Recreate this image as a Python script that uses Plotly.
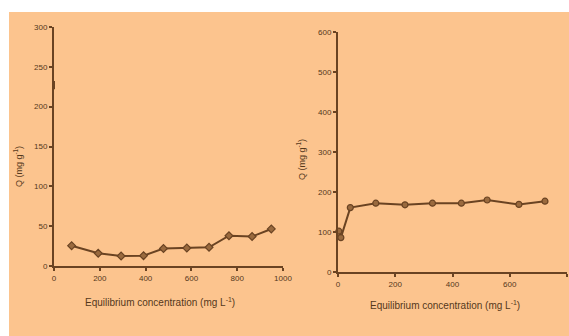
import plotly.graph_objects as go

# Left panel data
left_x = [77, 193, 293, 391, 478, 580, 677, 764, 865, 949]
left_y = [25.5, 16, 12.5, 13, 22, 22.5, 23.5, 38, 37, 46.5]
left_stray_x = [0]
left_stray_y = [227]

# Right panel data
right_x = [3, 10, 43, 132, 234, 330, 431, 521, 632, 723]
right_y = [102, 86, 161, 172, 168, 172, 172, 180, 169, 177]

left_xticks = [0, 200, 400, 600, 800, 1000]
left_yticks = [0, 50, 100, 150, 200, 250, 300]
right_xticks = [0, 200, 400, 600, 800]
right_yticks = [0, 100, 200, 300, 400, 500, 600]

BG = "#FCC48E"
INK = "#55381b"
LINE = "#6a4322"
FONT = "Liberation Sans, Arial, sans-serif"

W, H = 569, 336

fig = go.Figure()

fig.add_trace(go.Scatter(
    x=left_x, y=left_y, mode="lines+markers", xaxis="x", yaxis="y",
    line=dict(color=LINE, width=2),
    marker=dict(symbol="diamond", size=6, color="#9a6a3e", line=dict(color=LINE, width=1.2)),
    showlegend=False, cliponaxis=False))
fig.add_trace(go.Scatter(
    x=left_stray_x, y=left_stray_y, mode="markers", xaxis="x", yaxis="y",
    marker=dict(symbol="line-ns", size=6, line=dict(color=LINE, width=2)),
    showlegend=False, cliponaxis=False))
fig.add_trace(go.Scatter(
    x=right_x, y=right_y, mode="lines+markers", xaxis="x2", yaxis="y2",
    line=dict(color=LINE, width=2),
    marker=dict(symbol="circle", size=6, color="#9a6a3e", line=dict(color=LINE, width=1.2)),
    showlegend=False, cliponaxis=False))

def px_x(p):
    return p / W

def px_y(p):
    return 1 - p / H

axis_common = dict(
    showgrid=False, zeroline=False, showline=True, linecolor=LINE, linewidth=2,
    ticks="outside", ticklen=3, tickwidth=1.5, tickcolor=LINE, automargin=False,
    tickfont=dict(family=FONT, size=8, color=INK),
)

ann_common = dict(xref="paper", yref="paper", showarrow=False,
                  xanchor="center", yanchor="middle")

fig.update_layout(
    width=W, height=H,
    margin=dict(l=0, r=0, t=0, b=0, pad=0, autoexpand=False),
    paper_bgcolor=BG,
    plot_bgcolor="rgba(0,0,0,0)",
    font=dict(family=FONT, color=INK),
    xaxis=dict(domain=[px_x(54), px_x(283)], range=[0, 1000], tickvals=left_xticks,
               anchor="y", **axis_common),
    yaxis=dict(domain=[px_y(266), px_y(27)], range=[0, 300], tickvals=left_yticks,
               anchor="x", **axis_common),
    xaxis2=dict(domain=[px_x(338), px_x(567)], range=[0, 800], tickvals=right_xticks,
                anchor="y2", **axis_common),
    yaxis2=dict(domain=[px_y(272), px_y(32)], range=[0, 600], tickvals=right_yticks,
                anchor="x2", **axis_common),
    shapes=[
        dict(type="rect", xref="paper", yref="paper", x0=0, x1=1, y0=px_y(12), y1=1,
             fillcolor="white", line=dict(width=0), layer="below"),
        dict(type="rect", xref="paper", yref="paper", x0=0, x1=px_x(9), y0=0, y1=1,
             fillcolor="white", line=dict(width=0), layer="below"),
    ],
    annotations=[
        dict(text="Equilibrium concentration (mg L<sup>-1</sup>)",
             x=px_x(160), y=px_y(302), font=dict(family=FONT, size=10, color=INK), **ann_common),
        dict(text="Equilibrium concentration (mg L<sup>-1</sup>)",
             x=px_x(445), y=px_y(305), font=dict(family=FONT, size=10, color=INK), **ann_common),
        dict(text="Q (mg g<sup>-1</sup>)", textangle=-90,
             x=px_x(18), y=px_y(167), font=dict(family=FONT, size=9, color=INK), **ann_common),
        dict(text="Q (mg g<sup>-1</sup>)", textangle=-90,
             x=px_x(301), y=px_y(160), font=dict(family=FONT, size=9, color=INK), **ann_common),
    ],
)

fig.write_html(
    "out.html",
    config={"displayModeBar": False},
    post_script="document.body.style.margin='0';document.body.style.overflow='hidden';",
)
